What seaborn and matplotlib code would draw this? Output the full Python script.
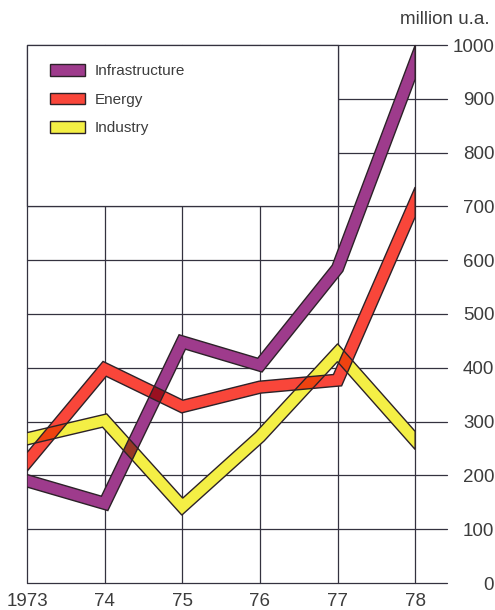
import numpy as np
import pandas as pd
import matplotlib
matplotlib.use("Agg")
import matplotlib.pyplot as plt
from matplotlib.patches import Polygon, Patch, Rectangle
from matplotlib.colors import to_rgb
import seaborn as sns

# Annual commitments by sector, million u.a.
years = [1973, 1974, 1975, 1976, 1977, 1978]
year_labels = ["1973", "74", "75", "76", "77", "78"]
infrastructure = [190, 148, 448, 405, 585, 968]
energy = [225, 398, 328, 364, 377, 708]
industry = [268, 302, 142, 272, 428, 265]
sectors = ["Infrastructure", "Energy", "Industry"]
colors = {"Infrastructure": "#9e3b8c", "Energy": "#f9463a", "Industry": "#f4ef45"}
y_ticks = list(range(0, 1001, 100))

df = pd.DataFrame({
    "year": years * 3,
    "value": infrastructure + energy + industry,
    "sector": [s for s in sectors for _ in years],
})

sns.set_theme(style="white")
plt.rcParams["font.family"] = ["Liberation Sans", "DejaVu Sans"]
text_color = "#3c3c3c"
grid_color = "#34323f"
edge_color = "#2c2228"

fig = plt.figure(figsize=(4.95, 6.10), dpi=100)
ax = fig.add_axes([27 / 495, 27 / 610, 420 / 495, 538 / 610])

sns.lineplot(data=df, x="year", y="value", hue="sector", palette=colors,
             hue_order=sectors, legend=False, ax=ax, linewidth=1)

ax.set_xlim(1973, 1978.41)
ax.set_ylim(0, 1000)
ax.set_xticks(years)
ax.set_xticklabels(year_labels)
ax.set_yticks(y_ticks)
ax.set_yticklabels([str(v) for v in y_ticks])
ax.set_xlabel("")
ax.set_ylabel("")
for s in ax.spines.values():
    s.set_visible(False)
ax.grid(True, color=grid_color, linewidth=0.9)
ax.set_axisbelow(True)
for gl in ax.get_xgridlines() + ax.get_ygridlines():
    gl.set_clip_on(False)
ax.yaxis.tick_right()
ax.tick_params(axis="y", length=0, pad=34, labelsize=13.5, labelcolor=text_color)
for lab in ax.get_yticklabels():
    lab.set_horizontalalignment("right")
ax.tick_params(axis="x", length=0, pad=7, labelsize=13.5, labelcolor=text_color)

# blank panel behind the key
ax.add_patch(Rectangle((1973, 700), 4, 300, facecolor="white", edgecolor=grid_color,
                       linewidth=0.9, zorder=1, clip_on=False))


def ribbon(ax, xs, ys, half):
    """Band of constant width around a polyline, cut vertically at both ends."""
    pts = ax.transData.transform(np.column_stack([xs, ys]))
    d = np.diff(pts, axis=0)
    d /= np.linalg.norm(d, axis=1)[:, None]
    n = np.column_stack([-d[:, 1], d[:, 0]])
    sides = []
    for sign in (1, -1):
        off = sign * half * n
        side = []
        p = pts[0] + off[0]
        side.append(p + (pts[0, 0] - p[0]) / d[0, 0] * d[0])
        for i in range(1, len(pts) - 1):
            a = pts[i] + off[i - 1]
            b = pts[i] + off[i]
            m = np.column_stack([d[i - 1], -d[i]])
            s, _ = np.linalg.solve(m, b - a)
            side.append(a + s * d[i - 1])
        p = pts[-1] + off[-1]
        side.append(p + (pts[-1, 0] - p[0]) / d[-1, 0] * d[-1])
        sides.append(np.array(side))
    verts = np.vstack([sides[0], sides[1][::-1]])
    return ax.transData.inverted().transform(verts)


# replace the seaborn lines with outlined ribbons
lines = list(ax.lines)
bands = []
for name, line in zip(sectors, lines):
    xy = line.get_xydata()
    line.remove()
    bands.append((name, ribbon(ax, xy[:, 0], xy[:, 1], 6.0)))

fills = []
for name, verts in bands:
    p = Polygon(verts, closed=True, facecolor=colors[name], edgecolor="none", zorder=3)
    ax.add_patch(p)
    fills.append(p)

# crossings print as multiplied inks
for i in range(len(bands)):
    for j in range(i + 1, len(bands)):
        ci = np.array(to_rgb(colors[bands[i][0]]))
        cj = np.array(to_rgb(colors[bands[j][0]]))
        over = Polygon(bands[j][1], closed=True, facecolor=ci * cj, edgecolor="none", zorder=4)
        ax.add_patch(over)
        over.set_clip_path(fills[i])

for name, verts in bands:
    ax.add_patch(Polygon(verts, closed=True, fill=False, edgecolor=edge_color,
                         linewidth=1.0, joinstyle="miter", zorder=5))

handles = [Patch(facecolor=colors[s], edgecolor=edge_color, linewidth=1.0) for s in sectors]
leg = ax.legend(handles=handles, labels=sectors, loc="upper left",
                bbox_to_anchor=(23 / 420, 1 - 19 / 538), frameon=False,
                fontsize=11, handlelength=2.3, handleheight=0.8,
                handletextpad=0.65, labelspacing=0.95, borderpad=0, borderaxespad=0)
leg.set_zorder(6)
for t in leg.get_texts():
    t.set_color(text_color)

fig.text(490 / 495, 1 - 20 / 610, "million u.a.", ha="right", va="center",
         fontsize=13.5, color=text_color)

fig.savefig("out.png", dpi=100)
